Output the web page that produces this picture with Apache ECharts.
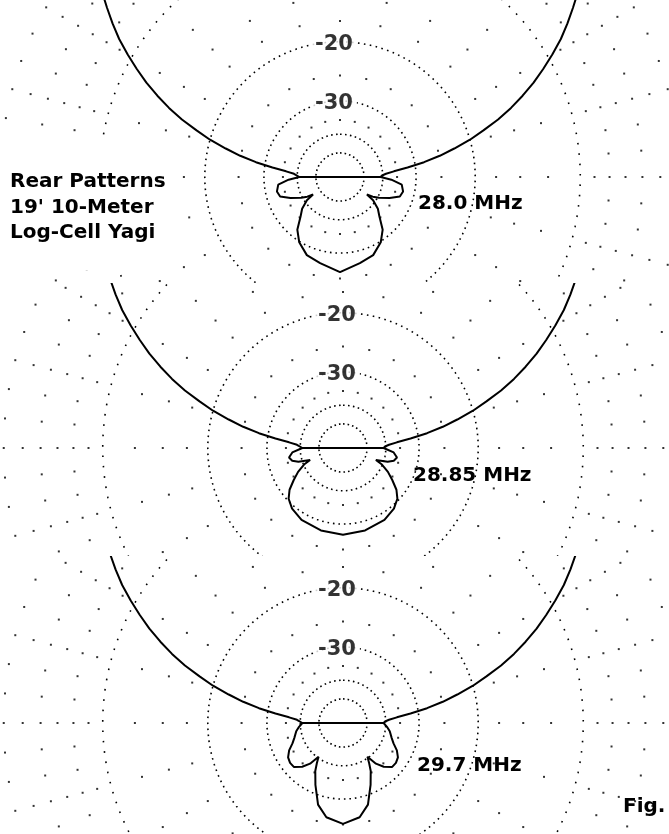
<!DOCTYPE html>
<html>
<head>
<meta charset="utf-8">
<script src="https://cdn.jsdelivr.net/npm/echarts@6/dist/echarts.min.js"></script>
<style>
html,body{margin:0;padding:0;background:#fff;width:669px;height:834px;overflow:hidden}
.band{position:absolute;left:0;width:669px;overflow:hidden;background:#fff}
</style>
</head>
<body>
<div id="b1" class="band" style="top:0;height:283px"></div>
<div id="b2" class="band" style="top:283px;height:273px"></div>
<div id="b3" class="band" style="top:556px;height:278px"></div>
<script>
// ---------------- data ----------------
const titleLines = ['Rear Patterns', "19' 10-Meter", 'Log-Cell Yagi'];
const frequencyLabels = ['28.0 MHz', '28.85 MHz', '29.7 MHz'];
const figLabel = 'Fig.';

// dB rings of the grid and the two labelled rings
const ringLevels = [-50, -40, -30, -20, -10];
const labelledLevels = [-20, -30];
const labelledText = ['-20', '-30'];

// radial grid: dots on 15-degree spokes and on the 5-degree spokes between them
const majorSpokeLevels = [-35, -25, -17.5, -15, -12.5, -9, -8, -7, -6, -5, -4, -3, -2, -1];
const minorSpokeLevels = [-8, -6, -4, -2];

// forward lobe (same for all three frequencies), azimuth from front, dB
const frontAngles = [0, 10, 20, 30, 40, 45, 50, 52, 54, 56, 58, 60, 62, 64, 66, 68, 70, 72, 74, 76, 78, 80, 82, 84, 86, 88, 90];
const frontDb     = [0, -0.2, -0.8, -1.8, -3.2, -4.1, -5.3, -6.0, -6.85, -7.7, -8.6, -9.65, -10.75, -11.9, -13.2, -14.6, -16.2, -18.1, -20.0, -22.4, -24.9, -28.0, -31.9, -35.9, -38.7, -40.3, -40.9];

// rear half (side + rear lobes), azimuth from front, dB
const rearAngles28_0 = [90, 93, 97, 103, 108, 113, 118, 121, 123, 125, 130, 135, 141, 148, 157, 167, 180];
const rearDb28_0     = [-40.9, -36.8, -33.5, -32.8, -33.3, -36, -39.5, -42, -45, -41, -37.5, -35.4, -32, -29.8, -28.1, -27.4, -26.1];

const rearAngles28_85 = [90, 95, 100, 104, 107, 110, 113, 118, 123, 128, 133, 140, 150, 165, 180];
const rearDb28_85     = [-40.9, -37, -35.7, -36.5, -38.5, -43.5, -40.2, -37, -34.5, -32, -30.4, -29.3, -28.5, -28, -27.7];

const rearAngles29_7 = [90, 96, 100, 107, 112, 117, 122, 127, 132, 137, 141, 144, 147, 150, 156, 163, 170, 180];
const rearDb29_7     = [-40.9, -39.2, -38.2, -37, -35.8, -34, -32.8, -32.4, -32.5, -34.2, -36.5, -40.5, -38, -35.5, -32, -28, -26, -25.1];

// ---------------- scale & layout ----------------
const LOG_STEP = 0.0575;      // log-periodic radius scale per dB
const OUTER_RADIUS_PX = 427;  // 0 dB ring radius
function rad(dB) { return Math.exp(LOG_STEP * dB); }

const ringDash = { '-50': 3.0, '-40': 3.4, '-30': 3.9, '-20': 4.4, '-10': 8.8 };
const FONT = '"DejaVu Sans", "Liberation Sans", Arial, sans-serif';

const bands = [
  { el: 'b1', cx: 340, cy: 177, rearA: rearAngles28_0,  rearD: rearDb28_0,  fx: 418, fy: 204, title: true,  fig: false },
  { el: 'b2', cx: 343, cy: 165, rearA: rearAngles28_85, rearD: rearDb28_85, fx: 413, fy: 193, title: false, fig: false },
  { el: 'b3', cx: 343, cy: 167, rearA: rearAngles29_7,  rearD: rearDb29_7,  fx: 417, fy: 210, title: false, fig: true }
];

function buildPattern(rearA, rearD) {
  const pts = [];
  const m = frontAngles.length, n = rearA.length;
  pts.push([rad(frontDb[m - 1]), 360 - frontAngles[m - 1]]);           // left null junction
  for (let i = 0; i < n; i++) pts.push([rad(rearD[i]), rearA[i]]);       // right side + rear
  for (let i = n - 2; i >= 0; i--) pts.push([rad(rearD[i]), 360 - rearA[i]]); // left side
  for (let i = m - 2; i >= 0; i--) pts.push([rad(frontDb[i]), 360 - frontAngles[i]]); // forward, left
  for (let i = 1; i < m; i++) pts.push([rad(frontDb[i]), frontAngles[i]]); // forward, right
  return pts;
}

function ringData(level) {
  const d = [];
  for (let a = 0; a <= 360; a += 1) d.push([rad(level), a]);
  return d;
}

function spokeData() {
  const d = [];
  for (let a = 0; a < 360; a += 5) {
    const levels = (a % 15 === 0) ? majorSpokeLevels : minorSpokeLevels;
    levels.forEach(lv => d.push([rad(lv), a]));
  }
  return d;
}

bands.forEach((b, idx) => {
  const chart = echarts.init(document.getElementById(b.el), null, { renderer: 'canvas' });
  const series = [];
  ringLevels.forEach(lv => {
    series.push({
      type: 'line', coordinateSystem: 'polar', data: ringData(lv),
      showSymbol: false, symbol: 'none', silent: true, z: 1,
      lineStyle: { color: '#000', width: 1.6, type: [1.6, ringDash[String(lv)]] }
    });
  });
  series.push({
    type: 'scatter', coordinateSystem: 'polar', data: spokeData(),
    symbol: 'rect', symbolSize: 2, silent: true, z: 1,
    itemStyle: { color: '#000' }
  });
  series.push({
    type: 'line', coordinateSystem: 'polar', data: buildPattern(b.rearA, b.rearD),
    showSymbol: false, symbol: 'none', silent: true, z: 5,
    lineStyle: { color: '#000', width: 2 }
  });
  series.push({
    type: 'scatter', coordinateSystem: 'polar',
    data: labelledLevels.map(lv => [rad(lv), 0]),
    symbolSize: 1, silent: true, z: 8,
    itemStyle: { color: 'rgba(0,0,0,0)' },
    label: {
      show: true, position: 'inside', offset: [-6, 3],
      formatter: p => labelledText[p.dataIndex],
      fontFamily: FONT, fontSize: 21, fontWeight: 'bold', color: '#000',
      backgroundColor: '#fff', padding: [0, 4]
    }
  });

  const graphic = [];
  if (b.title) {
    graphic.push({ type: 'rect', shape: { x: 0, y: 140, width: 176, height: 130 }, style: { fill: '#fff' }, z: 20 });
    titleLines.forEach((t, i) => graphic.push({
      type: 'text', x: 10, y: 182 + i * 25.5, z: 21,
      style: { text: t, font: 'bold 20px ' + FONT, fill: '#000', textVerticalAlign: 'middle', verticalAlign: 'middle' }
    }));
  }
  graphic.push({
    type: 'text', x: b.fx, y: b.fy, z: 21,
    style: { text: frequencyLabels[idx], font: 'bold 20px ' + FONT, fill: '#000', textVerticalAlign: 'middle', verticalAlign: 'middle' }
  });
  if (b.fig) {
    graphic.push({
      type: 'text', x: 623, y: 251, z: 21,
      style: { text: figLabel, font: 'bold 20px ' + FONT, fill: '#000', textVerticalAlign: 'middle', verticalAlign: 'middle' }
    });
  }

  chart.setOption({
    animation: false,
    backgroundColor: '#fff',
    polar: { center: [b.cx, b.cy], radius: OUTER_RADIUS_PX },
    angleAxis: { type: 'value', min: 0, max: 360, startAngle: 90, clockwise: true, show: false },
    radiusAxis: { type: 'value', min: 0, max: 1, show: false },
    series: series,
    graphic: graphic
  });
});
</script>
</body>
</html>
